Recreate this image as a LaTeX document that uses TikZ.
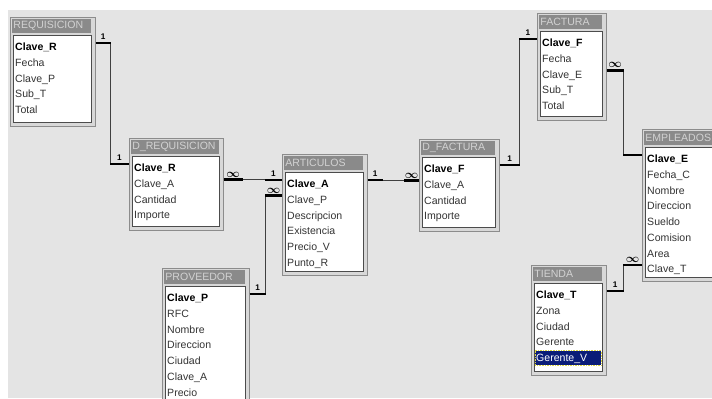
\documentclass[tikz,border=0pt]{standalone}
\usepackage{fontspec}
\setmainfont{Liberation Sans}
\usepackage{xcolor}

\definecolor{fondo}{HTML}{E4E4E4}
\definecolor{marcogris}{HTML}{D8D8D8}
\definecolor{barragris}{HTML}{8A8A8A}
\definecolor{letrero}{HTML}{D2D2D2}
\definecolor{seleccion}{HTML}{0A1C78}
\newcommand{\pix}{0.03cm}

\begin{document}
\begin{tikzpicture}[x=0.03cm, y=-0.03cm,
    marco/.style={anchor=north west, inner sep=0pt, fill=marcogris, draw=gray!90, line width=0.6pt},
    titulo/.style={anchor=north west, inner sep=0pt, inner xsep=1pt, fill=barragris, text=letrero,
      minimum height=14*\pix, align=left, font=\fontsize{9}{10}\selectfont},
    cuerpo/.style={anchor=north west, inner sep=0pt, fill=white, draw=black!70, line width=0.6pt},
    campo/.style={anchor=west, inner sep=0pt, text height=6.5pt, text depth=0pt, text=black!80,
      font=\fontsize{9}{10}\selectfont},
    clave/.style={campo, text=black, font=\fontsize{9}{10}\selectfont\bfseries},
    enlace/.style={draw=black!75, line width=0.6pt},
    grueso/.style={draw=black, line width=2.2pt},
    uno/.style={above=1pt, inner sep=0.5pt, font=\fontsize{7}{7}\selectfont\bfseries},
    muchos/.style={above=1pt, inner sep=0pt, font=\fontsize{10}{10}\selectfont\boldmath}]
      \useasboundingbox (0,0) rectangle (712,398);
      \clip (0,0) rectangle (712,398);

      % Sfondo
      \fill[white] (0,0) rectangle (712,398);
      \fill[fondo] (8,10) rectangle (712,398);

      % REQUISICION
      \node[marco, minimum width=85*\pix, minimum height=109*\pix] (req) at (10,17) {};
      \node[titulo, text width=79*\pix-2pt] (reqT) at (12,19) {REQUISICION};
      \node[cuerpo, minimum width=78*\pix, minimum height=87*\pix] (reqB) at (13,35) {};
      \node[clave] (reqClaveR) at (15,47) {Clave\_R};
      \node[campo] (reqFecha) at (15,62.7) {Fecha};
      \node[campo] (reqClaveP) at (15,78.4) {Clave\_P};
      \node[campo] (reqSubT) at (15,94.1) {Sub\_T};
      \node[campo] (reqTotal) at (15,109.8) {Total};

      % D_REQUISICION
      \node[marco, minimum width=94*\pix, minimum height=92*\pix] (dreq) at (129,138) {};
      \node[titulo, text width=88*\pix-2pt] (dreqT) at (131,140) {D\_REQUISICION};
      \node[cuerpo, minimum width=87*\pix, minimum height=70*\pix] (dreqB) at (132,156) {};
      \node[clave] (dreqClaveR) at (134,168) {Clave\_R};
      \node[campo] (dreqClaveA) at (134,183.7) {Clave\_A};
      \node[campo] (dreqCantidad) at (134,199.4) {Cantidad};
      \node[campo] (dreqImporte) at (134,215.1) {Importe};

      % ARTICULOS
      \node[marco, minimum width=85*\pix, minimum height=121*\pix] (art) at (282,154) {};
      \node[titulo, text width=79*\pix-2pt] (artT) at (284,156) {ARTICULOS};
      \node[cuerpo, minimum width=78*\pix, minimum height=99*\pix] (artB) at (285,172) {};
      \node[clave] (artClaveA) at (287,184) {Clave\_A};
      \node[campo] (artClaveP) at (287,199.7) {Clave\_P};
      \node[campo] (artDescripcion) at (287,215.4) {Descripcion};
      \node[campo] (artExistencia) at (287,231.1) {Existencia};
      \node[campo] (artPrecioV) at (287,246.8) {Precio\_V};
      \node[campo] (artPuntoR) at (287,262.5) {Punto\_R};

      % PROVEEDOR
      \node[marco, minimum width=87*\pix, minimum height=140*\pix] (prov) at (162,268) {};
      \node[titulo, text width=81*\pix-2pt] (provT) at (164,270) {PROVEEDOR};
      \node[cuerpo, minimum width=80*\pix, minimum height=118*\pix] (provB) at (165,286) {};
      \node[clave] (provClaveP) at (167,298) {Clave\_P};
      \node[campo] (provRFC) at (167,313.7) {RFC};
      \node[campo] (provNombre) at (167,329.4) {Nombre};
      \node[campo] (provDireccion) at (167,345.1) {Direccion};
      \node[campo] (provCiudad) at (167,360.8) {Ciudad};
      \node[campo] (provClaveA) at (167,376.5) {Clave\_A};
      \node[campo] (provPrecio) at (167,392.2) {Precio};

      % D_FACTURA
      \node[marco, minimum width=80*\pix, minimum height=92*\pix] (dfac) at (419,139) {};
      \node[titulo, text width=74*\pix-2pt] (dfacT) at (421,141) {D\_FACTURA};
      \node[cuerpo, minimum width=73*\pix, minimum height=70*\pix] (dfacB) at (422,157) {};
      \node[clave] (dfacClaveF) at (424,169) {Clave\_F};
      \node[campo] (dfacClaveA) at (424,184.7) {Clave\_A};
      \node[campo] (dfacCantidad) at (424,200.4) {Cantidad};
      \node[campo] (dfacImporte) at (424,216.1) {Importe};

      % FACTURA
      \node[marco, minimum width=69*\pix, minimum height=107*\pix] (fac) at (537,13) {};
      \node[titulo, text width=63*\pix-2pt] (facT) at (539,15) {FACTURA};
      \node[cuerpo, minimum width=62*\pix, minimum height=85*\pix] (facB) at (540,31) {};
      \node[clave] (facClaveF) at (542,43) {Clave\_F};
      \node[campo] (facFecha) at (542,58.7) {Fecha};
      \node[campo] (facClaveE) at (542,74.4) {Clave\_E};
      \node[campo] (facSubT) at (542,90.1) {Sub\_T};
      \node[campo] (facTotal) at (542,105.8) {Total};

      % EMPLEADOS
      \node[marco, minimum width=85*\pix, minimum height=152*\pix] (emp) at (642,129) {};
      \node[titulo, text width=79*\pix-2pt] (empT) at (644,131) {EMPLEADOS};
      \node[cuerpo, minimum width=78*\pix, minimum height=130*\pix] (empB) at (645,147) {};
      \node[clave] (empClaveE) at (647,159) {Clave\_E};
      \node[campo] (empFechaC) at (647,174.7) {Fecha\_C};
      \node[campo] (empNombre) at (647,190.4) {Nombre};
      \node[campo] (empDireccion) at (647,206.1) {Direccion};
      \node[campo] (empSueldo) at (647,221.8) {Sueldo};
      \node[campo] (empComision) at (647,237.5) {Comision};
      \node[campo] (empArea) at (647,253.2) {Area};
      \node[campo] (empClaveT) at (647,268.9) {Clave\_T};

      % TIENDA
      \node[marco, minimum width=75*\pix, minimum height=110*\pix] (tienda) at (531,265) {};
      \node[titulo, text width=69*\pix-2pt] (tiendaT) at (533,267) {TIENDA};
      \node[cuerpo, minimum width=68*\pix, minimum height=88*\pix] (tiendaB) at (534,283) {};
      \node[clave] (tiendaClaveT) at (536,295) {Clave\_T};
      \node[campo] (tiendaZona) at (536,310.7) {Zona};
      \node[campo] (tiendaCiudad) at (536,326.4) {Ciudad};
      \node[campo] (tiendaGerente) at (536,342.1) {Gerente};
      \draw[fill=seleccion, draw=yellow!70!gray, densely dotted, line width=0.4pt] (535,350.5) rectangle (601,365);
      \node[campo, text=white] (tiendaGerenteV) at (536,357.8) {Gerente\_V};

      % Collegamenti
      \draw[enlace] (reqClaveR.north -| req.east) -- ++(15,0) |- (dreqClaveR.north -| dreq.west);
      \draw[grueso] (reqClaveR.north -| req.east) -- ++(15,0) node[uno, midway] (r1a) {1};
      \draw[grueso] (dreqClaveR.north -| dreq.west) -- ++(-19,0) node[uno, midway] (r1b) {1};

      \draw[enlace] (dreqClaveA.north -| dreq.east) -- (dreqClaveA.north -| art.west);
      \draw[grueso] (dreqClaveA.north -| dreq.east) -- ++(19,0) node[muchos, midway] (r2a) {$\infty$};
      \draw[grueso] (artClaveA.north -| art.west) -- ++(-17,0) node[uno, midway] (r2b) {1};

      \draw[enlace] (artClaveP.north -| art.west) -- ++(-17,0) |- (provClaveP.north -| prov.east);
      \draw[grueso] (artClaveP.north -| art.west) -- ++(-17,0) node[muchos, midway] (r3a) {$\infty$};
      \draw[grueso] (provClaveP.north -| prov.east) -- ++(16,0) node[uno, midway] (r3b) {1};

      \draw[enlace] (artClaveA.north -| art.east) -- (artClaveA.north -| dfac.west);
      \draw[grueso] (artClaveA.north -| art.east) -- ++(15,0) node[uno, midway] (r4a) {1};
      \draw[grueso] (dfacClaveA.north -| dfac.west) -- ++(-15,0) node[muchos, midway] (r4b) {$\infty$};

      \draw[enlace] (dfacClaveF.north -| dfac.east) -- ++(20,0) |- (facClaveF.north -| fac.west);
      \draw[grueso] (dfacClaveF.north -| dfac.east) -- ++(20,0) node[uno, midway] (r5a) {1};
      \draw[grueso] (facClaveF.north -| fac.west) -- ++(-18,0) node[uno, midway] (r5b) {1};

      \draw[enlace] (facClaveE.north -| fac.east) -- ++(17,0) |- (empClaveE.north -| emp.west);
      \draw[grueso] (facClaveE.north -| fac.east) -- ++(17,0) node[muchos, midway] (r6a) {$\infty$};
      \draw[grueso] (empClaveE.north -| emp.west) -- ++(-19,0);

      \draw[enlace] (tiendaClaveT.north -| tienda.east) -- ++(17,0) |- (empClaveT.north -| emp.west);
      \draw[grueso] (tiendaClaveT.north -| tienda.east) -- ++(17,0) node[uno, midway] (r7a) {1};
      \draw[grueso] (empClaveT.north -| emp.west) -- ++(-19,0) node[muchos, midway] (r7b) {$\infty$};
\end{tikzpicture}
\end{document}
